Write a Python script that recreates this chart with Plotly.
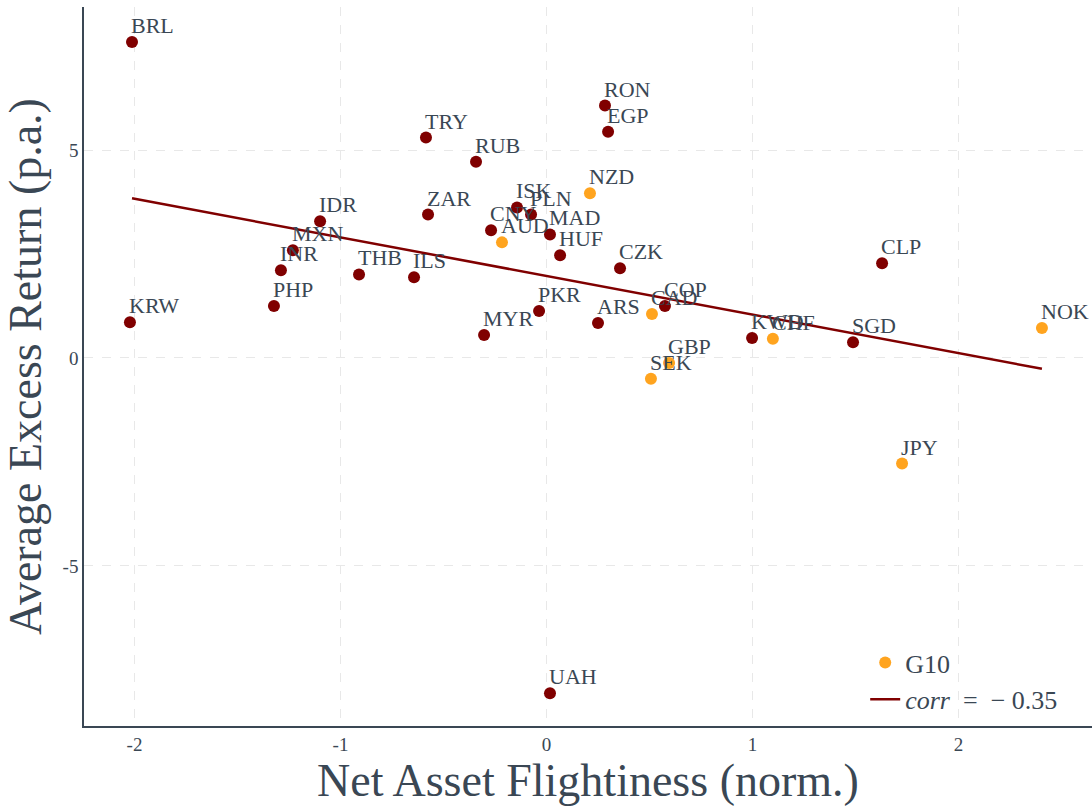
import plotly.graph_objects as go

# Emerging / other currencies
em_codes = ["BRL", "RON", "EGP", "TRY", "RUB", "ISK", "PLN", "ZAR", "IDR", "CNY", "MAD",
            "MXN", "HUF", "CZK", "CLP", "INR", "THB", "ILS", "PHP", "KRW", "PKR", "MYR",
            "ARS", "COP", "KWD", "SGD", "UAH"]
em_x = [-2.012, 0.284, 0.299, -0.585, -0.342, -0.143, -0.075, -0.575, -1.099, -0.269, 0.017,
        -1.231, 0.066, 0.357, 1.629, -1.289, -0.910, -0.643, -1.323, -2.022, -0.036, -0.303,
        0.250, 0.575, 0.998, 1.488, 0.017]
em_y = [7.60, 6.07, 5.44, 5.30, 4.72, 3.62, 3.45, 3.45, 3.29, 3.07, 2.97,
        2.59, 2.47, 2.16, 2.28, 2.11, 2.01, 1.94, 1.25, 0.86, 1.13, 0.55,
        0.84, 1.25, 0.48, 0.38, -8.06]

# G10 currencies
g10_codes = ["NZD", "AUD", "CAD", "CHF", "NOK", "GBP", "SEK", "JPY"]
g10_x = [0.211, -0.216, 0.512, 1.099, 2.405, 0.595, 0.507, 1.726]
g10_y = [3.96, 2.78, 1.06, 0.46, 0.72, -0.12, -0.50, -2.54]

# Fitted line
fit_x = [-2.012, 2.405]
fit_y = [3.84, -0.26]

x_ticks = [-2, -1, 0, 1, 2]
x_ticktext = ["-2", "-1", "0", "1", "2"]
y_ticks = [-5, 0, 5]
y_ticktext = ["-5", "0", "5"]

FONT = "Liberation Serif"
TXT = "#3a4754"
RED = "#800000"
ORANGE = "#FFA41F"

fig = go.Figure()
fig.add_trace(go.Scatter(
    x=em_x, y=em_y, mode="markers", showlegend=False,
    marker=dict(color=RED, size=12),
))
fig.add_trace(go.Scatter(
    x=g10_x, y=g10_y, mode="markers", name="G10",
    marker=dict(color=ORANGE, size=12),
))
fig.add_trace(go.Scatter(
    x=fit_x, y=fit_y, mode="lines",
    name="<i>corr</i>\u00a0\u00a0=\u00a0\u00a0\u2212\u00a00.35",
    line=dict(color=RED, width=2.5),
))

for codes, xs, ys in [(em_codes, em_x, em_y), (g10_codes, g10_x, g10_y)]:
    for c, xv, yv in zip(codes, xs, ys):
        fig.add_annotation(x=xv, y=yv, text=c, showarrow=False,
                           xanchor="left", yanchor="bottom", xshift=-3, yshift=2,
                           font=dict(family=FONT, size=22, color=TXT))

fig.update_layout(
    width=1092, height=808,
    margin=dict(l=84, r=0, t=7, b=82),
    paper_bgcolor="white", plot_bgcolor="white",
    font=dict(family=FONT, color=TXT),
    legend=dict(x=0.775, y=0.004, xanchor="left", yanchor="bottom",
                bgcolor="rgba(0,0,0,0)", font=dict(size=26, family=FONT, color=TXT),
                tracegroupgap=0, itemwidth=30),
    xaxis=dict(
        range=[-2.245, 2.648], tickvals=x_ticks, ticktext=x_ticktext, automargin=False,
        showgrid=True, gridcolor="#e8e8e8", griddash="dash", zeroline=False,
        showline=True, linecolor=TXT, linewidth=1.5,
        tickfont=dict(size=19, family=FONT, color=TXT),
        title=dict(text="Net Asset Flightiness (norm.)", font=dict(size=46, family=FONT, color=TXT),
                   standoff=6),
    ),
    yaxis=dict(
        range=[-8.85, 8.44], tickvals=y_ticks, ticktext=y_ticktext, automargin=False,
        showgrid=True, gridcolor="#e8e8e8", griddash="dash", zeroline=False,
        showline=True, linecolor=TXT, linewidth=1.5,
        tickfont=dict(size=19, family=FONT, color=TXT),
        title=dict(text="Average Excess Return (p.a.)", font=dict(size=46, family=FONT, color=TXT),
                   standoff=14),
    ),
)

fig.write_html("out.html", config={"displayModeBar": False},
               post_script="document.body.style.margin='0';")
